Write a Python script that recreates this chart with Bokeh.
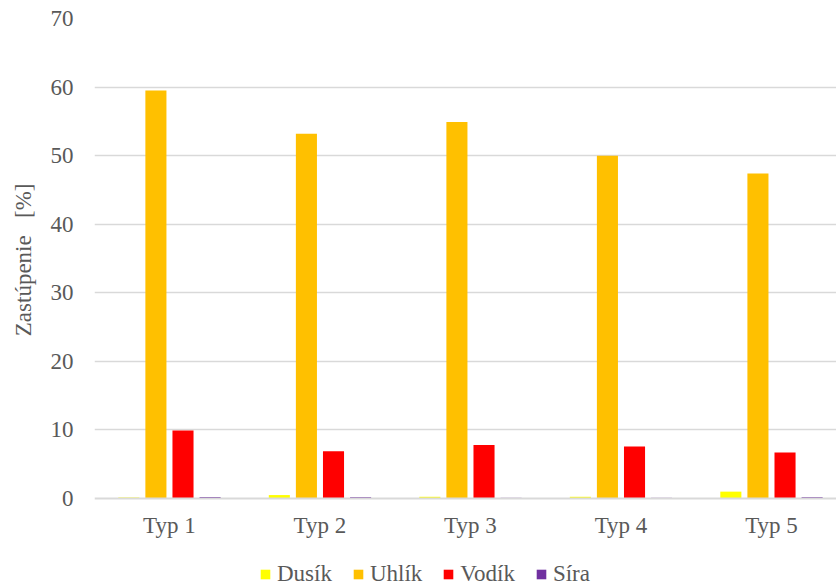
import numpy as np
from bokeh.plotting import figure
from bokeh.models import Range1d, FixedTicker, ColumnDataSource, LinearAxis, Legend, LegendItem
from bokeh.embed import file_html
from bokeh.resources import INLINE

# ---- data ----
types = ["Typ 1", "Typ 2", "Typ 3", "Typ 4", "Typ 5"]
dusik = [0.15, 0.5, 0.25, 0.25, 1.0]
uhlik = [59.5, 53.2, 54.9, 50.0, 47.4]
vodik = [9.9, 6.9, 7.8, 7.6, 6.7]
sira = [0.2, 0.2, 0.1, 0.1, 0.2]
series_names = ["Dusík", "Uhlík", "Vodík", "Síra"]
y_ticks = [0, 10, 20, 30, 40, 50, 60, 70]
y_title = "Zastúpenie\u00a0\u00a0\u00a0[%]"

# ---- style ----
colors = ["#FFFF00", "#FFC000", "#FF0000", "#7030A0"]
offsets = [-0.27, -0.09, 0.09, 0.27]
bar_w = 0.14
FONT = "Times New Roman"
FS = "23px"
TXT = "#595959"
GRID = "#D9D9D9"
TITLE_PAD = "\u00a0" * 15   # lifts the title to the centre of the 0-70 span

idx = np.arange(1, len(types) + 1)

# frame extends to canvas bottom; the category axis sits at y = 0
p = figure(
    width=836, height=587,
    min_border_left=94, min_border_top=18, min_border_right=0, min_border_bottom=0,
    x_range=Range1d(0.502, 5.432), y_range=Range1d(-12.98, 70),
    x_axis_location=None,
    output_backend="svg", toolbar_location=None,
    background_fill_color="white", border_fill_color="white",
)
p.outline_line_color = None

items = []
for name, vals, col, off in zip(series_names, [dusik, uhlik, vodik, sira], colors, offsets):
    src = ColumnDataSource(dict(x=idx + off, top=vals))
    r = p.vbar(x="x", top="top", bottom=0, width=bar_w, source=src, fill_color=col,
               line_color=None)
    items.append(LegendItem(label=name, renderers=[r]))

# y axis
p.yaxis.ticker = FixedTicker(ticks=y_ticks)
p.yaxis.axis_line_color = None
p.yaxis.major_tick_line_color = None
p.yaxis.minor_tick_line_color = None
p.yaxis.major_tick_out = 0
p.yaxis.major_label_standoff = 21
p.yaxis.major_label_text_font = FONT
p.yaxis.major_label_text_font_size = FS
p.yaxis.major_label_text_color = TXT
p.yaxis.axis_label = TITLE_PAD + y_title
p.yaxis.axis_label_text_font = FONT
p.yaxis.axis_label_text_font_size = FS
p.yaxis.axis_label_text_font_style = "normal"
p.yaxis.axis_label_text_color = TXT
p.yaxis.axis_label_standoff = 12

p.ygrid.ticker = FixedTicker(ticks=y_ticks[1:])
p.ygrid.grid_line_color = GRID
p.ygrid.grid_line_width = 1.3
p.xgrid.grid_line_color = None

# category axis fixed at y = 0
xa = LinearAxis(fixed_location=0)
xa.ticker = FixedTicker(ticks=list(idx))
xa.major_label_overrides = {int(i): t for i, t in zip(idx, types)}
xa.axis_line_color = GRID
xa.axis_line_width = 2
xa.major_tick_line_color = None
xa.minor_tick_line_color = None
xa.major_tick_out = 0
xa.major_label_standoff = 15
xa.major_label_text_font = FONT
xa.major_label_text_font_size = FS
xa.major_label_text_color = TXT
p.add_layout(xa, "below")

# legend at the bottom of the chart
leg = Legend(items=items, orientation="horizontal", location=(165, 0))
leg.glyph_width = 12
leg.glyph_height = 12
leg.label_standoff = 6
leg.spacing = 20
leg.padding = 0
leg.margin = 0
leg.border_line_color = None
leg.background_fill_alpha = 0
leg.label_text_font = FONT
leg.label_text_font_size = FS
leg.label_text_color = TXT
p.add_layout(leg, "center")

open("out.html", "w").write(file_html(p, INLINE))
